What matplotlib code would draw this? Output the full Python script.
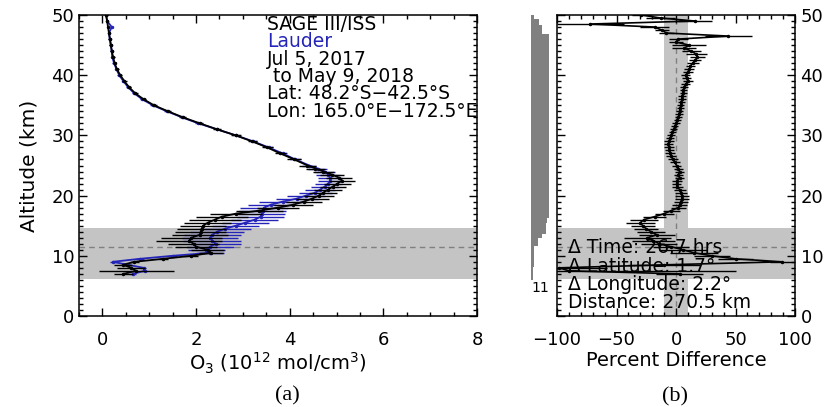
import matplotlib.pyplot as plt
from matplotlib.ticker import MultipleLocator

# ---- panel (a): ozone number density profiles ----
alt_sage = [50, 49, 48, 47, 46, 45, 44, 43, 42, 41, 40, 39, 38, 37, 36, 35, 34, 33, 32, 31, 30, 29, 28, 27, 26, 25,
            24.5, 24, 23.5, 23, 22.5, 22, 21.5, 21, 20.5, 20, 19.5, 19, 18.5, 18, 17.5, 17, 16.5, 16, 15.5, 15,
            14.5, 14, 13.5, 13, 12.5, 12, 11.5, 11, 10.5, 10, 9.5, 9, 8.5, 8, 7.5, 7]
o3_sage = [0.08, 0.10, 0.12, 0.14, 0.16, 0.18, 0.20, 0.23, 0.26, 0.31, 0.38, 0.47, 0.57, 0.70, 0.88, 1.10, 1.40,
           1.72, 2.08, 2.45, 2.85, 3.20, 3.52, 3.80, 4.10, 4.38,
           4.55, 4.72, 4.90, 5.05, 5.12, 5.02, 4.92, 4.82, 4.72, 4.62, 4.48, 4.30, 4.08, 3.75, 3.35, 2.85, 2.55,
           2.40, 2.25, 2.15, 2.12, 2.10, 2.08, 1.90, 1.85, 1.95, 2.00, 2.25, 2.32, 1.90, 1.30, 0.68, 0.44, 0.62,
           0.72, 0.45]
err_sage = [0.03, 0.03, 0.03, 0.03, 0.03, 0.03, 0.03, 0.04, 0.04, 0.04, 0.04, 0.05, 0.05, 0.05, 0.06, 0.06, 0.06,
            0.07, 0.07, 0.08, 0.10, 0.10, 0.12, 0.12, 0.15, 0.18,
            0.20, 0.22, 0.25, 0.28, 0.28, 0.28, 0.28, 0.30, 0.30, 0.32, 0.35, 0.38, 0.42, 0.45, 0.50, 0.55, 0.55,
            0.55, 0.50, 0.50, 0.52, 0.55, 0.60, 0.65, 0.70, 0.55, 0.45, 0.35, 0.25, 0.15, 0.10, 0.10, 0.20, 0.30,
            0.80, 0.20]

alt_lauder = alt_sage
o3_lauder = [0.08, 0.10, 0.20, 0.14, 0.16, 0.18, 0.20, 0.21, 0.25, 0.30, 0.36, 0.45, 0.55, 0.68, 0.85, 1.08, 1.38,
             1.70, 2.05, 2.45, 2.85, 3.22, 3.55, 3.85, 4.12, 4.42,
             4.60, 4.75, 4.82, 4.86, 4.86, 4.82, 4.75, 4.65, 4.55, 4.35, 4.15, 3.85, 3.60, 3.45, 3.42, 3.40, 3.38,
             3.25, 3.05, 2.85, 2.62, 2.45, 2.35, 2.30, 2.35, 2.42, 2.30, 2.22, 2.30, 1.50, 0.80, 0.22, 0.55, 0.88,
             0.90, 0.65]
err_lauder = [0.03, 0.03, 0.03, 0.03, 0.03, 0.03, 0.03, 0.03, 0.04, 0.04, 0.04, 0.04, 0.05, 0.05, 0.05, 0.06, 0.06,
              0.06, 0.07, 0.07, 0.08, 0.08, 0.10, 0.10, 0.12, 0.15,
              0.20, 0.22, 0.25, 0.25, 0.25, 0.28, 0.30, 0.32, 0.35, 0.40, 0.45, 0.50, 0.50, 0.52, 0.50, 0.50, 0.50,
              0.50, 0.50, 0.50, 0.55, 0.58, 0.60, 0.60, 0.62, 0.55, 0.50, 0.40, 0.30, 0.10, 0.08, 0.06, 0.06, 0.06,
              0.06, 0.06]

# ---- panel (b): percent difference ----
alt_diff = [50, 49.5, 49, 48.5, 48, 47.5, 47, 46.5, 46, 45.5, 45, 44.5, 44, 43.5, 43, 42.5, 42, 41.5, 41, 40.5,
            40, 39.5, 39, 38.5, 38, 37.5, 37, 36.5, 36, 35.5, 35, 34.5, 34, 33.5, 33, 32.5, 32, 31.5, 31, 30.5,
            30, 29.5, 29, 28.5, 28, 27.5, 27, 26.5, 26, 25.5, 25, 24.5, 24, 23.5, 23, 22.5, 22, 21.5, 21, 20.5,
            20, 19.5, 19, 18.5, 18, 17.5, 17, 16.5, 16, 15.5, 15, 14.5, 14, 13.5, 13, 12.5, 12, 11.5, 11, 10.5,
            10, 9.5, 9, 8.5, 8, 7.5, 7]
pct_diff = [-29, -13, 16, -72, -18, -12, -8, 44, 2, 0, 11, 7, 13, 17, 18, 16, 14, 12, 11, 10,
            8, 9, 10, 8, 7, 6, 6, 5, 5, 4.5, 4, 3.5, 3, 2.5, 2, 1, 0, -1, -2, -3,
            -4, -5, -6, -6.5, -6, -5.5, -5, -4, -2.5, -1, 0.5, 2, 3, 2, 3, 1, 0.5, 1, 3, 4,
            5, 5, 4, 3, 2, -4, -10, -18, -27, -30, -28, -25, -21, -16, -24, -19, -14, -4, 6, 15,
            30, 50, 89, -10, -98, -90, 3]
err_diff = [8, 12, 14, 28, 12, 6, 6, 20, 8, 6, 14, 10, 8, 9, 6, 5, 5, 4, 4, 4,
            4, 4, 4, 3.5, 3.5, 3, 3, 3, 3, 3, 3, 3, 3, 3, 3, 3, 3, 3, 3, 3,
            3.5, 3.5, 4, 4, 4, 4, 4, 4, 4, 4, 4, 4, 4, 4, 4, 4, 4, 4.5, 5, 5,
            6, 6, 6, 6, 6, 7, 8, 10, 12, 12, 10, 10, 12, 15, 20, 18, 15, 15, 20, 20,
            15, 15, 10, 30, 40, 140, 20]

# number of coincidences per altitude (step histogram)
hist_edges = [6.0, 8.2, 11.6, 12.9, 13.7, 15.4, 16.2, 46.9, 48.3, 49.4, 50.0]
hist_counts = [1, 2, 4, 7, 9, 10, 11, 7, 5, 2]

trop_lo, trop_hi, trop_mean = 6.2, 14.6, 11.5
info_a = ["SAGE III/ISS", "Lauder", "Jul 5, 2017", " to May 9, 2018",
          "Lat: 48.2°S\u221242.5°S", "Lon: 165.0°E\u2212172.5°E"]
info_b = ["\u0394 Time: 26.7 hrs", "\u0394 Latitude: 1.7°", "\u0394 Longitude: 2.2°", "Distance: 270.5 km"]

BLUE = "#2424b8"
BAND = "#c4c4c4"
FS = 13.5   # labels and annotations
TS = 13     # tick labels

W, H = 827, 407
fig = plt.figure(figsize=(W / 100, H / 100), dpi=100)
top, bot = 15, 316
ax_a = fig.add_axes([79 / W, 1 - bot / H, (477 - 79) / W, (bot - top) / H])
ax_b = fig.add_axes([557 / W, 1 - bot / H, (795 - 557) / W, (bot - top) / H])
ax_h = fig.add_axes([531 / W, 1 - bot / H, 18 / W, (bot - top) / H])


def style(ax):
    ax.tick_params(which="both", direction="in", top=True, right=True, labelsize=TS, width=1)
    ax.tick_params(which="major", length=6)
    ax.tick_params(which="minor", length=3)
    ax.tick_params(axis="x", pad=11)
    for s in ax.spines.values():
        s.set_linewidth(1.1)


# panel (a)
ax_a.axhspan(trop_lo, trop_hi, color=BAND, lw=0, zorder=0)
ax_a.axhline(trop_mean, color="#808080", ls=(0, (4, 3)), lw=1, zorder=1)
ax_a.errorbar(o3_lauder, alt_lauder, xerr=err_lauder, color=BLUE, ecolor=BLUE, lw=1.3, elinewidth=1,
              marker=".", ms=3, capsize=0, zorder=2)
ax_a.errorbar(o3_sage, alt_sage, xerr=err_sage, color="k", ecolor="k", lw=1.3, elinewidth=1,
              marker=".", ms=3, capsize=0, zorder=3)
ax_a.set_xlim(-0.5, 8)
ax_a.set_ylim(0, 50)
ax_a.xaxis.set_major_locator(MultipleLocator(2))
ax_a.xaxis.set_minor_locator(MultipleLocator(0.5))
ax_a.yaxis.set_major_locator(MultipleLocator(10))
ax_a.yaxis.set_minor_locator(MultipleLocator(1))
style(ax_a)
ax_a.set_ylabel("Altitude (km)", fontsize=FS + 1, labelpad=9)
ax_a.set_xlabel("O$_3$ (10$^{12}$ mol/cm$^3$)", fontsize=FS + 0.5, labelpad=1)
for i, line in enumerate(info_a):
    ax_a.text(3.51, 48.4 - 2.87 * i, line, fontsize=FS, va="center", ha="left",
              color=BLUE if i == 1 else "k", zorder=4)

# panel (b)
ax_b.axvspan(-10, 10, color=BAND, lw=0, zorder=0)
ax_b.axhspan(trop_lo, trop_hi, color=BAND, lw=0, zorder=0)
ax_b.axhline(trop_mean, color="#808080", ls=(0, (4, 3)), lw=1, zorder=1)
ax_b.axvline(0, color="#808080", ls=(0, (4, 3)), lw=1, zorder=1)
for i, line in enumerate(info_b):
    ax_b.text(-91, 11.3 - 3.0 * i, line, fontsize=FS, va="center", ha="left", zorder=2)
ax_b.errorbar(pct_diff, alt_diff, xerr=err_diff, color="k", ecolor="k", lw=1.2, elinewidth=1,
              marker=".", ms=3, capsize=0, zorder=3)
ax_b.set_xlim(-100, 100)
ax_b.set_ylim(0, 50)
ax_b.xaxis.set_major_locator(MultipleLocator(50))
ax_b.xaxis.set_minor_locator(MultipleLocator(10))
ax_b.yaxis.set_major_locator(MultipleLocator(10))
ax_b.yaxis.set_minor_locator(MultipleLocator(1))
style(ax_b)
ax_b.tick_params(axis="y", labelleft=False, labelright=True, pad=4)
ax_b.set_xlabel("Percent Difference", fontsize=FS + 0.5, labelpad=1)

# coincidence histogram
ax_h.stairs(hist_counts, hist_edges, orientation="horizontal", fill=True, color="#808080", lw=0)
ax_h.set_xlim(0, 11)
ax_h.set_ylim(0, 50)
ax_h.axis("off")
ax_h.text(5.5, 4.6, str(max(hist_counts)), fontsize=10, ha="center", va="center", clip_on=False)

fig.text(287 / W, 1 - 396 / H, "(a)", fontsize=16, family="Liberation Serif", ha="center", va="center")
fig.text(675 / W, 1 - 397 / H, "(b)", fontsize=16, family="Liberation Serif", ha="center", va="center")

fig.savefig("out.png", dpi=100)
